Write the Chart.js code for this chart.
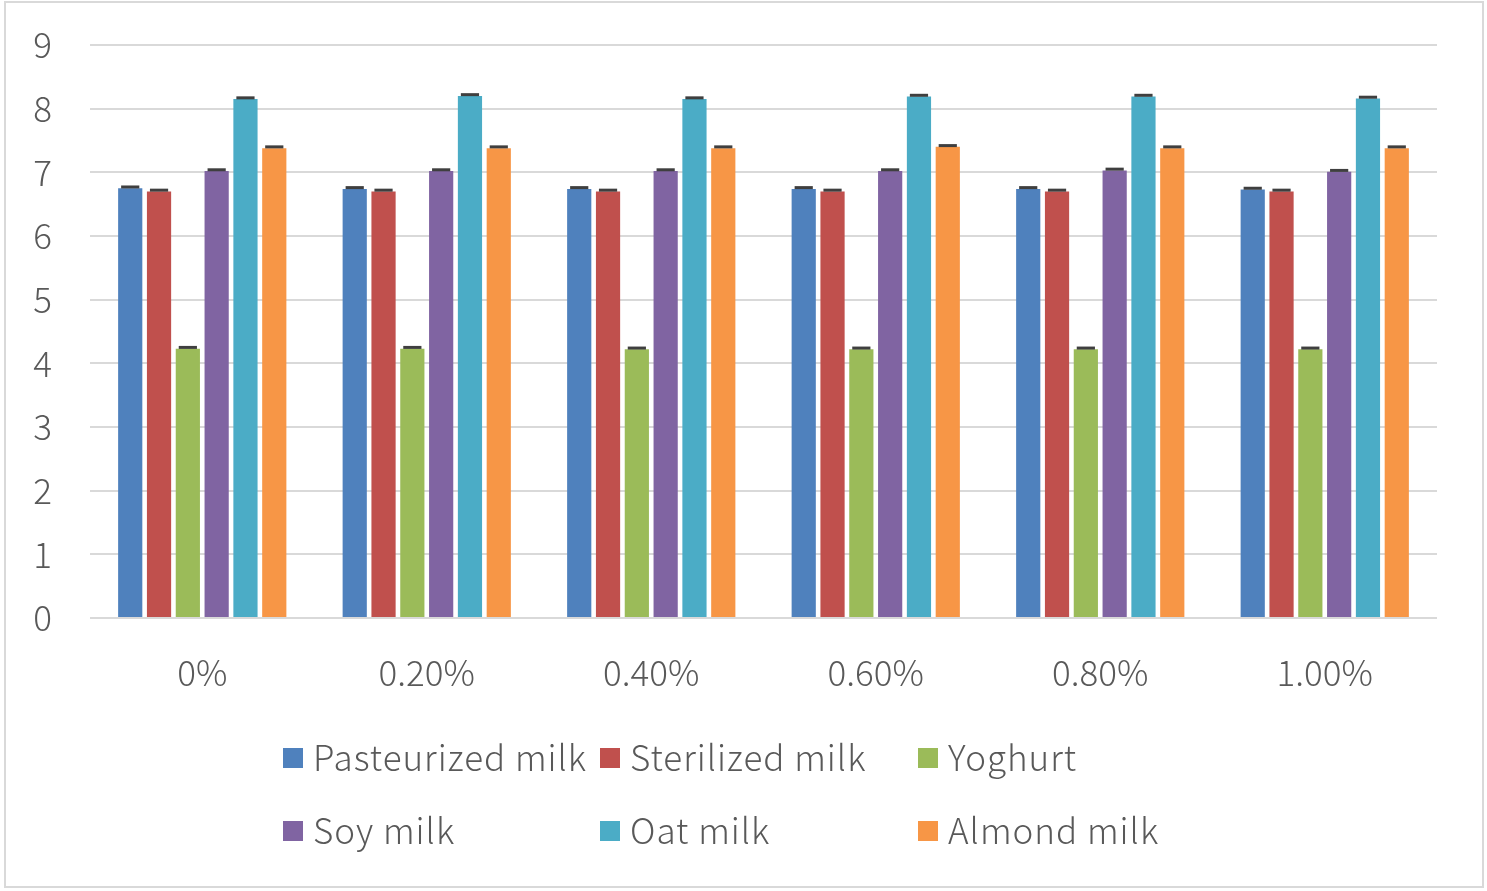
<!DOCTYPE html>
<html>
<head>
<meta charset="utf-8">
<script src="https://cdn.jsdelivr.net/npm/chart.js@4.4.1/dist/chart.umd.min.js"></script>
<style>
  body { margin: 0; background: #fff; }
  #frame { position: absolute; left: 4px; top: 1px; width: 1476px; height: 883px; border: 2px solid #d9d9d9; }
  #c { position: absolute; left: 0; top: 0; }
</style>
</head>
<body>
<div id="frame"></div>
<canvas id="c" width="1487" height="891"></canvas>
<script>
const categories = ['0%', '0.20%', '0.40%', '0.60%', '0.80%', '1.00%'];
const seriesNames = ['Pasteurized milk', 'Sterilized milk', 'Yoghurt', 'Soy milk', 'Oat milk', 'Almond milk'];
const colors = ['#4f81bd', '#c0504d', '#9bbb59', '#8064a2', '#4bacc6', '#f79646'];

const pasteurized = [6.75, 6.74, 6.74, 6.74, 6.74, 6.73];
const sterilized  = [6.70, 6.70, 6.70, 6.70, 6.70, 6.70];
const yoghurt     = [4.23, 4.23, 4.22, 4.22, 4.22, 4.22];
const soy         = [7.02, 7.02, 7.02, 7.02, 7.03, 7.01];
const oat         = [8.15, 8.20, 8.15, 8.19, 8.19, 8.16];
const almond      = [7.38, 7.38, 7.38, 7.40, 7.38, 7.38];
const errors      = [0.02, 0.02, 0.02, 0.02, 0.02, 0.02];

const seriesValues = [pasteurized, sterilized, yoghurt, soy, oat, almond];
const yTicks = [0, 1, 2, 3, 4, 5, 6, 7, 8, 9];

const textColor = '#595959';
const fontFamily = '"Noto Sans CJK KR", "Noto Sans", sans-serif';

// small dark caps on top of each bar (error bars)
const errorCaps = {
  id: 'errorCaps',
  afterDatasetsDraw(chart) {
    const ctx = chart.ctx;
    const y = chart.scales.y;
    ctx.save();
    ctx.strokeStyle = '#3f3f3f';
    ctx.lineWidth = 3;
    chart.data.datasets.forEach((ds, i) => {
      const meta = chart.getDatasetMeta(i);
      meta.data.forEach((bar, j) => {
        const top = y.getPixelForValue(ds.data[j] + errors[i]);
        const half = bar.width / 2 - 3;
        ctx.beginPath();
        ctx.moveTo(bar.x - half, top);
        ctx.lineTo(bar.x + half, top);
        ctx.stroke();
      });
    });
    ctx.restore();
  }
};

// legend laid out as a 3-column grid
const gridLegend = {
  id: 'gridLegend',
  afterDraw(chart) {
    const ctx = chart.ctx;
    const cols = [283, 600, 918];
    const rows = [758, 831];
    ctx.save();
    ctx.font = '300 35px ' + fontFamily;
    ctx.letterSpacing = '1px';
    ctx.textBaseline = 'middle';
    chart.data.datasets.forEach((ds, i) => {
      const x = cols[i % 3];
      const yy = rows[Math.floor(i / 3)];
      ctx.fillStyle = ds.backgroundColor;
      ctx.fillRect(x, yy - 10, 20, 20);
      ctx.fillStyle = textColor;
      ctx.fillText(ds.label, x + 30, yy);
    });
    ctx.restore();
  }
};

new Chart(document.getElementById('c'), {
  type: 'bar',
  data: {
    labels: categories,
    datasets: seriesNames.map((name, i) => ({
      label: name,
      data: seriesValues[i],
      backgroundColor: colors[i],
      categoryPercentage: 0.77,
      barPercentage: 0.84
    }))
  },
  options: {
    responsive: false,
    animation: false,
    layout: { padding: { left: 10, right: 50, top: 45, bottom: 0 } },
    plugins: {
      legend: { display: false },
      tooltip: { enabled: false }
    },
    scales: {
      x: {
        grid: { display: false, drawTicks: false },
        border: { display: false },
        ticks: { color: textColor, font: { size: 35, family: fontFamily, weight: 300 }, padding: 34 },
        afterFit: s => { s.height = 273; }
      },
      y: {
        min: 0,
        max: 9,
        afterBuildTicks: s => { s.ticks = yTicks.map(v => ({ value: v })); },
        grid: { color: '#d9d9d9', lineWidth: 2, drawTicks: false },
        border: { display: false },
        ticks: { color: textColor, font: { size: 35, family: fontFamily, weight: 300 }, padding: 38 },
        afterFit: s => { s.width = 80; s.paddingTop = 0; s.paddingBottom = 0; }
      }
    }
  },
  plugins: [errorCaps, gridLegend]
});
</script>
</body>
</html>
